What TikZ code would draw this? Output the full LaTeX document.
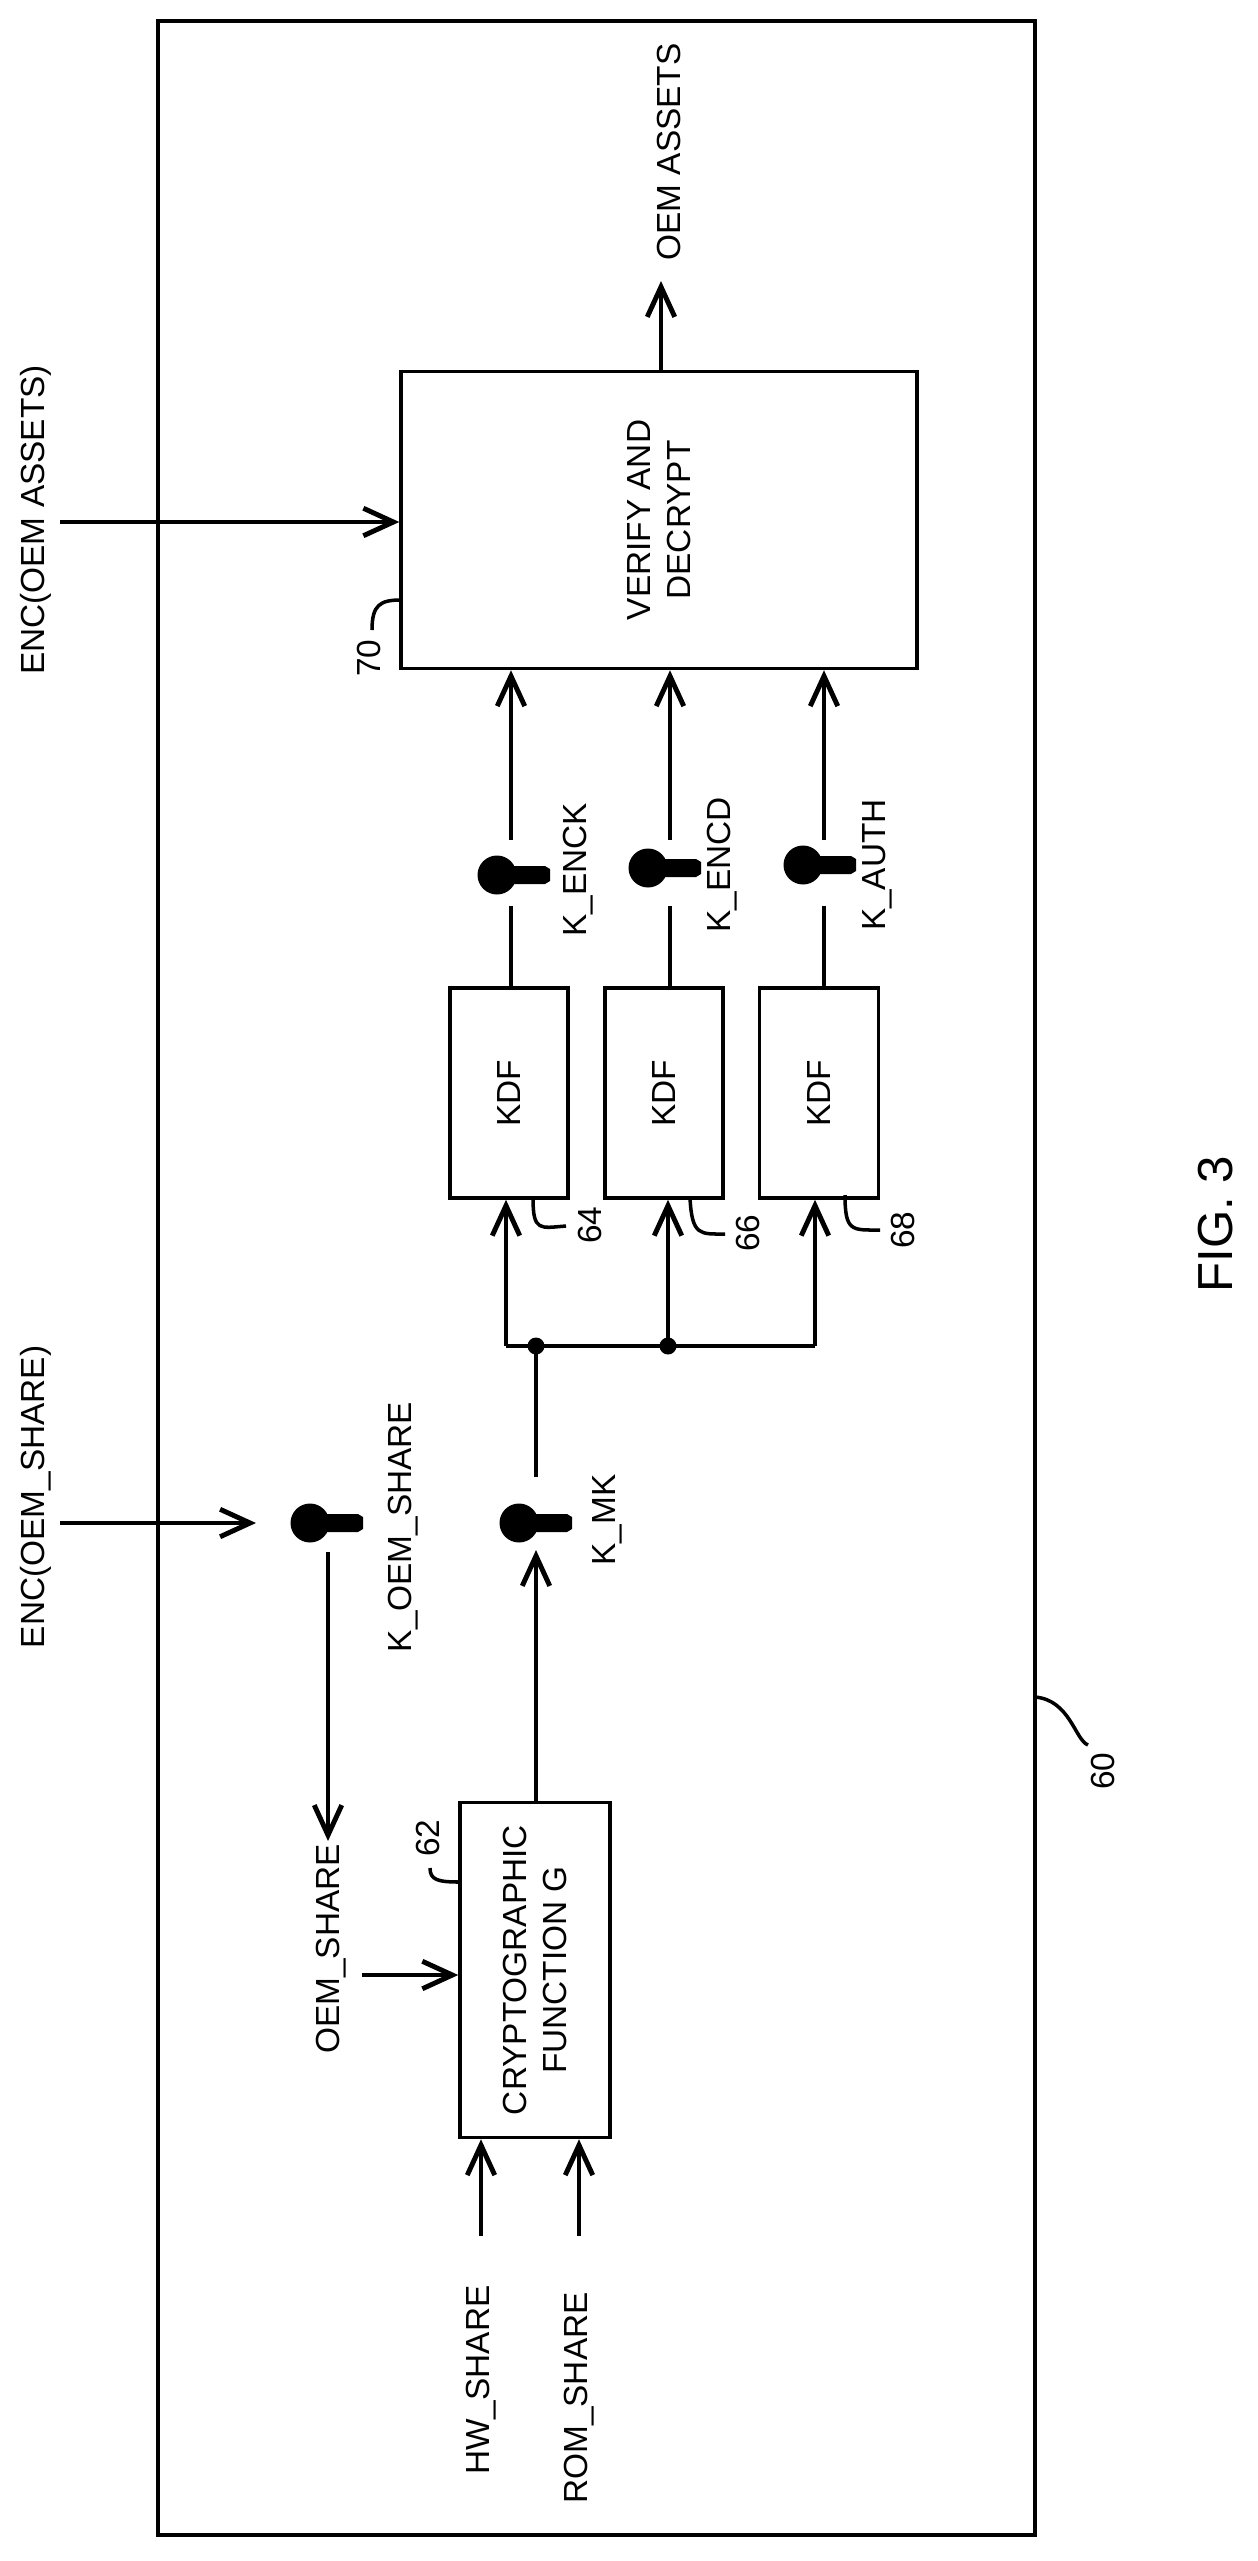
\documentclass[tikz,border=0pt]{standalone}
\usepackage{fontspec}
\setmainfont{Liberation Sans}
\usetikzlibrary{arrows.meta}

\tikzset{
  lbl/.style={rotate=90,font=\fontsize{19}{23}\selectfont,align=center,inner sep=0pt},
  blk/.style={draw,line width=2pt,rotate=90,font=\fontsize{19}{23}\selectfont,align=center},
  arr/.style={line width=2.8pt,-{Straight Barb[length=0.6cm,width=0.55cm,line width=2.8pt]}},
  wire/.style={line width=2pt},
  key/.pic={
    \fill (0,0) circle [radius=0.39cm];
    \fill (10,-9) -- (48,-9) -- (53,-6) -- (53,6) -- (48,9) -- (10,9) -- cycle;
  }
}

\begin{document}
\begin{tikzpicture}[x=0.02cm,y=-0.02cm]
    \useasboundingbox (0,0) rectangle (1257,2561);
    \draw[line width=2.2pt] (158,21) rectangle (1035,2535);

    % blocks
    \node[blk,minimum width=5.94cm,minimum height=10.32cm] (verify) at (659,520) {VERIFY AND\\DECRYPT};
    \node[blk,minimum width=4.2cm,minimum height=2.36cm] (kdfa) at (509,1093) {KDF};
    \node[blk,minimum width=4.2cm,minimum height=2.36cm] (kdfb) at (664,1093) {KDF};
    \node[blk,minimum width=4.2cm,minimum height=2.38cm] (kdfc) at (819,1093) {KDF};
    \node[blk,minimum width=6.7cm,minimum height=3cm] (crypto) at (535,1970) {CRYPTOGRAPHIC\\FUNCTION G};

    % keys
    \pic at (497,875) {key};
    \pic at (648,868) {key};
    \pic at (803,865) {key};
    \pic at (519,1523) {key};
    \pic at (310,1523) {key};

    % labels
    \node[lbl] (oemassets) at (669,152) {OEM ASSETS};
    \node[lbl] (encassets) at (36,520) {ENC(OEM ASSETS)};
    \node[lbl] (encshare) at (36,1497) {ENC(OEM\_SHARE)};
    \node[lbl] (kenck) at (578,870) {K\_ENCK};
    \node[lbl] (kencd) at (722,865) {K\_ENCD};
    \node[lbl] (kauth) at (877,865) {K\_AUTH};
    \node[lbl] (kmk) at (607,1520) {K\_MK};
    \node[lbl] (koem) at (403,1527) {K\_OEM\_SHARE};
    \node[lbl] (oemshare) at (331,1949) {OEM\_SHARE};
    \node[lbl] (hwshare) at (481,2380) {HW\_SHARE};
    \node[lbl] (romshare) at (579,2398) {ROM\_SHARE};
    \node[lbl,font=\fontsize{28}{32}\selectfont] (fig) at (1216,1224) {FIG. 3};
    \node[lbl] (n60) at (1103,1771) {60};
    \node[lbl] (n62) at (428,1838) {62};
    \node[lbl] (n64) at (590,1225) {64};
    \node[lbl] (n66) at (748,1233) {66};
    \node[lbl] (n68) at (903,1230) {68};
    \node[lbl] (n70) at (369,658) {70};

    % coordinates
    \coordinate (ea) at (60,522);
    \coordinate (es) at (60,1523);
    \coordinate (es1) at (256,1523);
    \coordinate (oa) at (661,281);
    \coordinate (ka1) at (511,840);  \coordinate (ka2) at (511,906);
    \coordinate (kb1) at (670,840);  \coordinate (kb2) at (670,906);
    \coordinate (kc1) at (824,840);  \coordinate (kc2) at (824,906);
    \coordinate (km1) at (536,1477); \coordinate (km2) at (536,1550);
    \coordinate (ko1) at (328,1552); \coordinate (ko2) at (328,1841);
    \coordinate (os) at (362,1975);
    \coordinate (hw) at (481,2236);
    \coordinate (rom) at (579,2236);
    \coordinate (busl) at (506,1346);
    \coordinate (busm) at (536,1346);
    \coordinate (busb) at (668,1346);
    \coordinate (busr) at (815,1346);

    % connectors (boxes are turned: north is left, east is top)
    \draw[arr] (ea) -- (verify.north |- ea);
    \draw[arr] (verify.east -| oa) -- (oa);
    \draw[arr] (ka1) -- (verify.west -| ka1);
    \draw[arr] (kb1) -- (verify.west -| kb1);
    \draw[arr] (kc1) -- (verify.west -| kc1);
    \draw[wire] (ka2) -- (kdfa.east -| ka2);
    \draw[wire] (kb2) -- (kdfb.east -| kb2);
    \draw[wire] (kc2) -- (kdfc.east -| kc2);
    \draw[wire] (km1) -- (busm);
    \draw[wire] (busl) -- (busr);
    \fill (busm) circle [radius=0.17cm];
    \fill (busb) circle [radius=0.17cm];
    \draw[arr] (busl) -- (kdfa.west -| busl);
    \draw[arr] (busb) -- (kdfb.west -| busb);
    \draw[arr] (busr) -- (kdfc.west -| busr);
    \draw[arr] (crypto.east -| km2) -- (km2);
    \draw[arr] (es) -- (es1);
    \draw[arr] (ko1) -- (ko2);
    \draw[arr] (os) -- (crypto.north |- os);
    \draw[arr] (hw) -- (crypto.west -| hw);
    \draw[arr] (rom) -- (crypto.west -| rom);

    % leaders
    \draw[wire] (533,1198) .. controls (533,1232) and (540,1228) .. (566,1226);
    \draw[wire] (690,1198) .. controls (692,1236) and (700,1234) .. (725,1234);
    \draw[wire] (845,1195) .. controls (845,1232) and (852,1230) .. (880,1230);
    \draw[wire] (1035,1697) .. controls (1070,1700) and (1075,1740) .. (1088,1745);
    \draw[wire] (430,1868) .. controls (430,1880) and (438,1882) .. (460,1882);
    \draw[wire] (401,600) .. controls (380,600) and (372,605) .. (372,630);
\end{tikzpicture}
\end{document}
